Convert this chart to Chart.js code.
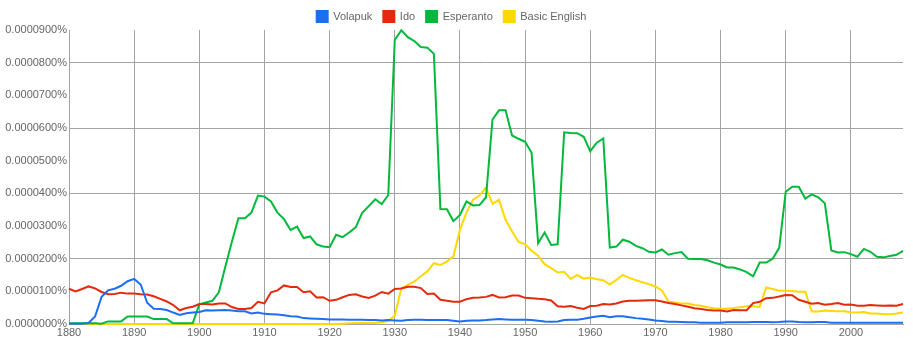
<!DOCTYPE html>
<html>
<head>
<meta charset="utf-8">
<script src="https://cdn.jsdelivr.net/npm/chart.js@4/dist/chart.umd.min.js"></script>
<style>
  html, body { margin: 0; padding: 0; background: #fff; }
</style>
</head>
<body>
<canvas id="ngram" width="913" height="347"></canvas>
<script>
// years 1880 .. 2008
const firstYear = 1880;
const lastYear = 2008;
const years = [];
for (let y = firstYear; y <= lastYear; y++) years.push(y);

// values in units of 0.0000001%
const volapuk = [
  1, 1, 1, 3, 23, 83, 103, 108, 117, 131,
  138, 121, 65, 47, 46, 43, 35, 28, 33, 35,
  37, 42, 41, 42, 43, 41, 39, 39, 32, 35,
  31, 30, 29, 27, 24, 23, 18, 17, 16, 15,
  14, 14, 14, 13, 13, 13, 12, 12, 11, 12,
  11, 10, 12, 13, 13, 12, 12, 12, 12, 10,
  8, 10, 11, 11, 12, 14, 15, 14, 13, 13,
  13, 12, 10, 8, 7, 8, 12, 13, 13, 16,
  20, 23, 25, 21, 24, 24, 21, 18, 16, 14,
  11, 9, 7, 7, 6, 5, 5, 4, 4, 4,
  4, 5, 5, 5, 5, 6, 6, 6, 5, 6,
  8, 8, 6, 5, 5, 6, 6, 4, 4, 4,
  4, 4, 4, 4, 4, 4, 4, 4, 4
];

const ido = [
  108, 100, 107, 115, 109, 98, 91, 92, 96, 93,
  93, 91, 90, 85, 77, 69, 58, 42, 49, 53,
  61, 61, 60, 63, 63, 52, 46, 46, 49, 68,
  63, 97, 103, 118, 113, 113, 97, 100, 81, 82,
  71, 74, 82, 89, 91, 84, 80, 87, 98, 93,
  107, 109, 114, 114, 110, 92, 93, 74, 71, 68,
  68, 76, 80, 81, 83, 89, 81, 82, 87, 87,
  80, 79, 77, 76, 72, 54, 53, 55, 50, 46,
  55, 56, 61, 60, 63, 69, 71, 71, 72, 73,
  73, 69, 64, 61, 57, 53, 48, 46, 43, 41,
  41, 38, 43, 42, 42, 64, 68, 79, 80, 84,
  89, 88, 74, 68, 62, 64, 59, 61, 64, 59,
  60, 56, 56, 58, 57, 56, 57, 56, 61
];

const esperanto = [
  2, 2, 2, 2, 2, 1, 8, 8, 8, 23,
  23, 23, 23, 15, 15, 15, 2, 2, 2, 3,
  60, 66, 71, 97, 176, 252, 324, 324, 341, 393,
  390, 375, 341, 321, 288, 298, 263, 268, 244, 237,
  235, 273, 266, 280, 296, 340, 361, 382, 367, 395,
  870, 899, 878, 866, 848, 846, 827, 352, 351, 315,
  334, 375, 363, 364, 388, 626, 654, 654, 577, 567,
  558, 524, 247, 280, 242, 244, 587, 585, 584, 573,
  529, 555, 568, 234, 237, 258, 252, 239, 232, 221,
  219, 228, 212, 217, 220, 200, 199, 199, 195, 188,
  182, 173, 173, 167, 159, 146, 188, 188, 200, 233,
  405, 420, 420, 384, 397, 388, 370, 225, 219, 220,
  214, 206, 230, 221, 206, 204, 208, 212, 224
];

const basicEnglish = [
  0, 0, 0, 0, 0, 0, 0, 0, 0, 0,
  0, 0, 0, 0, 0, 0, 0, 0, 0, 0,
  0, 0, 0, 0, 0, 0, 0, 0, 0, 0,
  0, 0, 0, 0, 0, 0, 0, 0, 0, 0,
  0, 0, 1, 2, 3, 3, 3, 3, 5, 10,
  25, 109, 120, 130, 146, 161, 186, 181, 191, 207,
  288, 341, 380, 393, 418, 368, 380, 319, 283, 251,
  244, 224, 209, 183, 171, 158, 160, 138, 150, 139,
  142, 137, 134, 121, 135, 150, 141, 134, 128, 122,
  115, 103, 69, 66, 63, 63, 58, 56, 51, 48,
  47, 47, 49, 51, 54, 54, 52, 112, 107, 102,
  102, 101, 99, 99, 38, 38, 41, 40, 39, 39,
  36, 35, 37, 32, 32, 30, 30, 32, 35
];

const seriesNames = ["Volapuk", "Ido", "Esperanto", "Basic English"];
const seriesColors = ["#1c6ef2", "#e5290c", "#02b93b", "#ffd800"];
const seriesData = [volapuk, ido, esperanto, basicEnglish];

Chart.defaults.font.family = '"Liberation Sans", Arial, sans-serif';
Chart.defaults.font.size = 11;
Chart.defaults.color = "#666";

const gridGray = "#a3a3a3";

// keep the legend strip at a fixed height so the plot starts where we want
const legendHeight = {
  id: "legendHeight",
  beforeInit(chart) {
    const legend = chart.legend;
    const fit = legend.fit;
    legend.fit = function () {
      fit.call(this);
      this.height = 30;
    };
  },
};

new Chart(document.getElementById("ngram"), {
  type: "line",
  data: {
    labels: years,
    datasets: seriesNames.map((name, i) => ({
      label: name,
      data: seriesData[i],
      borderColor: seriesColors[i],
      backgroundColor: seriesColors[i],
      borderWidth: 2,
      pointRadius: 0,
      tension: 0,
      fill: false,
      clip: 3, // let the zero lines sit on the baseline without being cut in half
    })),
  },
  options: {
    responsive: false,
    animation: false,
    layout: { padding: { left: 0, right: 10, top: 0, bottom: 0 } },
    scales: {
      x: {
        type: "linear",
        min: firstYear,
        max: lastYear,
        ticks: {
          stepSize: 10,
          includeBounds: false,
          padding: 2,
          maxRotation: 0,
          autoSkip: false,
          callback: (v) => String(v),
        },
        grid: { color: gridGray, drawTicks: false },
        border: { color: gridGray },
        afterFit: (scale) => { scale.height = 23; },
      },
      y: {
        min: 0,
        max: 900,
        ticks: {
          stepSize: 100,
          padding: 2,
          autoSkip: false,
          callback: (v) => (v * 1e-7).toFixed(7) + "%",
        },
        grid: {
          drawTicks: false,
          color: (ctx) => (ctx.tick && ctx.tick.value % 200 === 0 && ctx.tick.value < 900 ? gridGray : "rgba(0,0,0,0)"),
        },
        border: { color: gridGray },
        afterFit: (scale) => { scale.width = 69; },
      },
    },
    plugins: {
      legend: {
        position: "top",
        labels: {
          boxWidth: 11,
          boxHeight: 11,
          padding: 11,
          color: "#666",
          font: { size: 11 },
        },
      },
      tooltip: { enabled: false },
    },
  },
  plugins: [legendHeight],
});
</script>
</body>
</html>
